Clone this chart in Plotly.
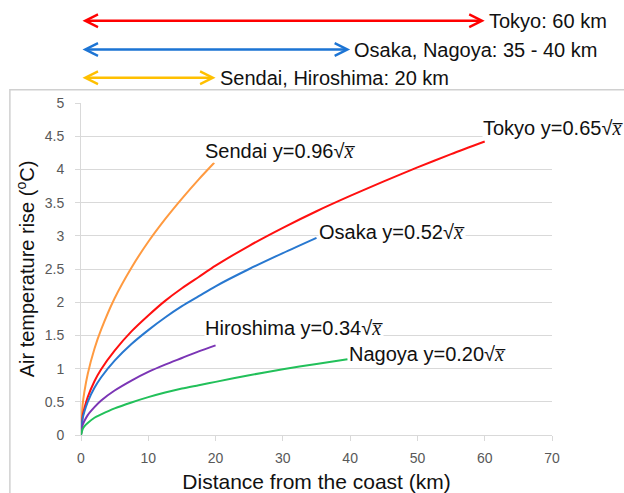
import plotly.graph_objects as go

# ---- data ----
x_tokyo = [0, 0.25, 0.5, 1, 2, 3, 5, 7.5, 10, 12.5, 15, 17.5, 20, 25, 30, 35, 40, 45, 50, 55, 60]
y_tokyo = [0, 0.29, 0.40, 0.57, 0.81, 0.99, 1.27, 1.56, 1.80, 2.02, 2.21, 2.38, 2.55, 2.85, 3.12, 3.37, 3.60, 3.82, 4.03, 4.23, 4.42]

x_osaka = [0, 0.25, 0.5, 1, 2, 3, 5, 7.5, 10, 12.5, 15, 17.5, 20, 25, 30, 35]
y_osaka = [0, 0.25, 0.35, 0.50, 0.71, 0.87, 1.12, 1.37, 1.58, 1.77, 1.94, 2.09, 2.24, 2.50, 2.74, 2.97]

x_sendai = [0, 0.25, 0.5, 1, 2, 3, 5, 7.5, 10, 12.5, 15, 17.5, 19.8]
y_sendai = [0, 0.46, 0.65, 0.92, 1.30, 1.59, 2.06, 2.52, 2.91, 3.25, 3.56, 3.85, 4.10]

x_hiroshima = [0, 0.25, 0.5, 1, 2, 3, 5, 7.5, 10, 12.5, 15, 17.5, 20]
y_hiroshima = [0, 0.15, 0.21, 0.30, 0.42, 0.52, 0.67, 0.82, 0.95, 1.06, 1.16, 1.26, 1.35]

x_nagoya = [0, 0.25, 0.5, 1, 2, 3, 5, 7.5, 10, 12.5, 15, 17.5, 20, 25, 30, 35, 39.6]
y_nagoya = [0, 0.09, 0.13, 0.18, 0.26, 0.31, 0.40, 0.49, 0.57, 0.64, 0.70, 0.75, 0.80, 0.90, 0.99, 1.07, 1.14]

series_names = ["Sendai", "Tokyo", "Osaka", "Hiroshima", "Nagoya"]
series_coef = ["0.96", "0.65", "0.52", "0.34", "0.20"]
series_colors = ["#FF9A40", "#FF1010", "#2878D0", "#7B35B5", "#22C05A"]

# range arrows (km)
arrow_km = [60, 40, 20]
arrow_text = ["Tokyo: 60 km", "Osaka, Nagoya: 35 - 40 km", "Sendai, Hiroshima: 20 km"]
arrow_colors = ["#FF0000", "#1C74D4", "#FFC000"]
arrow_ypaper = [1.248, 1.161, 1.076]

# label anchor positions (data coords)
label_x = [18.3, 59.6, 35.2, 18.3, 39.7]
label_y = [4.27, 4.62, 3.06, 1.61, 1.22]

xs = [x_sendai, x_tokyo, x_osaka, x_hiroshima, x_nagoya]
ys = [y_sendai, y_tokyo, y_osaka, y_hiroshima, y_nagoya]

fig = go.Figure()
for name, xv, yv, col in zip(series_names, xs, ys, series_colors):
    fig.add_trace(go.Scatter(x=xv, y=yv, mode="lines", name=name,
                             line=dict(color=col, width=2, shape="spline", smoothing=0.8),
                             showlegend=False, hoverinfo="skip"))

annotations = []
sqrt_x = "√<span style='font-family:Liberation Serif'><i>x̅</i></span>"
for name, coef, lx, ly in zip(series_names, series_coef, label_x, label_y):
    annotations.append(dict(x=lx, y=ly, xref="x", yref="y", xanchor="left", yanchor="middle",
                            text=f"{name} y={coef}{sqrt_x}", showarrow=False,
                            bgcolor="white", borderpad=0,
                            font=dict(size=20, color="#111111", family="Arial")))

for km, txt, col, yp in zip(arrow_km, arrow_text, arrow_colors, arrow_ypaper):
    annotations.append(dict(x=km, y=yp, xref="x", yref="paper", ax=0, ay=0,
                            axref="x", ayref="pixel", text="", showarrow=True,
                            arrowside="end+start", arrowhead=5, startarrowhead=5,
                            arrowsize=1, startarrowsize=1, arrowwidth=2.5, arrowcolor=col,
                            standoff=0, startstandoff=0))
    annotations.append(dict(x=km, y=yp, xref="x", yref="paper", xanchor="left", yanchor="middle",
                            xshift=2, text=txt, showarrow=False,
                            font=dict(size=20, color="#111111", family="Arial")))

fig.update_layout(
    width=624, height=493,
    margin=dict(l=81, r=72, t=103, b=58),
    paper_bgcolor="white", plot_bgcolor="white",
    font=dict(family="Arial", color="#111111"),
    annotations=annotations,
    shapes=[dict(type="rect", xref="paper", yref="paper", x0=-0.151, x1=1.2, y0=-0.25, y1=1.04,
                 line=dict(color="#D0D0D0", width=1.5), fillcolor="rgba(0,0,0,0)", layer="below")],
)
fig.update_xaxes(range=[0, 70], dtick=10, tick0=0, showgrid=False, zeroline=False, automargin=False,
                 showline=True, linecolor="#D9D9D9", linewidth=1,
                 ticks="outside", ticklen=5, tickcolor="#D9D9D9", ticklabelstandoff=5,
                 tickfont=dict(size=14, color="#595959", family="Arial"),
                 title=dict(text="Distance from the coast (km)", font=dict(size=21, color="#111111"), standoff=10))
fig.update_yaxes(range=[0, 5], dtick=0.5, tick0=0, showgrid=True, gridcolor="#D9D9D9", gridwidth=1,
                 zeroline=False, showline=True, linecolor="#D9D9D9", linewidth=1, automargin=False,
                 ticks="outside", ticklen=5, tickcolor="#D9D9D9", ticklabelstandoff=8,
                 tickfont=dict(size=14, color="#595959", family="Arial"),
                 title=dict(text="Air temperature rise (<sup>o</sup>C)", font=dict(size=20, color="#111111"), standoff=4))

fig.write_html("out.html", config={"displayModeBar": False},
               post_script="document.body.style.margin='0px';document.body.style.padding='0px';")
